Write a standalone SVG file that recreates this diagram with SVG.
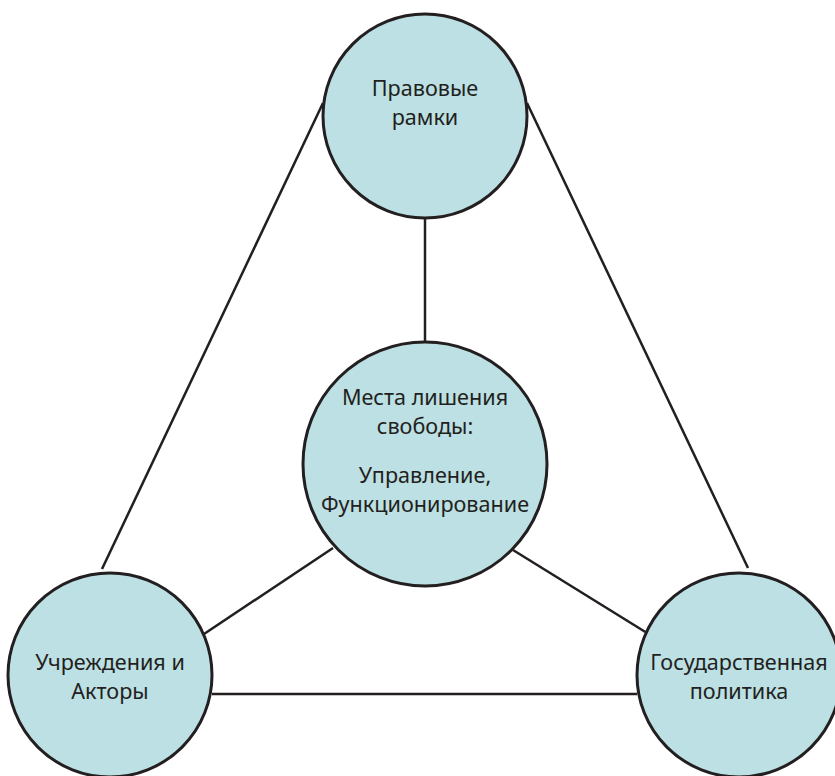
<svg xmlns="http://www.w3.org/2000/svg" width="835" height="776" viewBox="0 0 835 776">
<style>
.node{fill:#bce0e3;stroke:#231f20;stroke-width:3}
.edge{stroke:#231f20;stroke-width:2.5;fill:none}
text{font-family:"Noto Sans","Open Sans",sans-serif;font-size:21.6px;fill:#231f20;text-anchor:middle}
</style>
<rect width="835" height="776" fill="#ffffff"/>
<g id="connectors">
<line class="edge" x1="323" y1="103" x2="102" y2="569"/>
<line class="edge" x1="527" y1="103" x2="748" y2="568"/>
<line class="edge" x1="425" y1="219" x2="425" y2="341"/>
<line class="edge" x1="333" y1="548" x2="204" y2="634"/>
<line class="edge" x1="513" y1="550" x2="647" y2="633"/>
<line class="edge" x1="212" y1="694" x2="637" y2="694"/>
</g>
<g id="node-top">
<circle class="node" cx="425" cy="116" r="102"/>
<text x="425" y="96">Правовые</text>
<text x="425" y="124.5">рамки</text>
</g>
<g id="node-center">
<circle class="node" cx="425" cy="464" r="122"/>
<text x="425" y="405">Места лишения</text>
<text x="425" y="433.5">свободы:</text>
<text x="425" y="483">Управление,</text>
<text x="425" y="512">Функционирование</text>
</g>
<g id="node-left">
<circle class="node" cx="110" cy="675" r="102"/>
<text x="110" y="670">Учреждения и</text>
<text x="110" y="699">Акторы</text>
</g>
<g id="node-right">
<circle class="node" cx="739" cy="675" r="102"/>
<text x="739" y="670">Государственная</text>
<text x="739" y="699">политика</text>
</g>
</svg>
